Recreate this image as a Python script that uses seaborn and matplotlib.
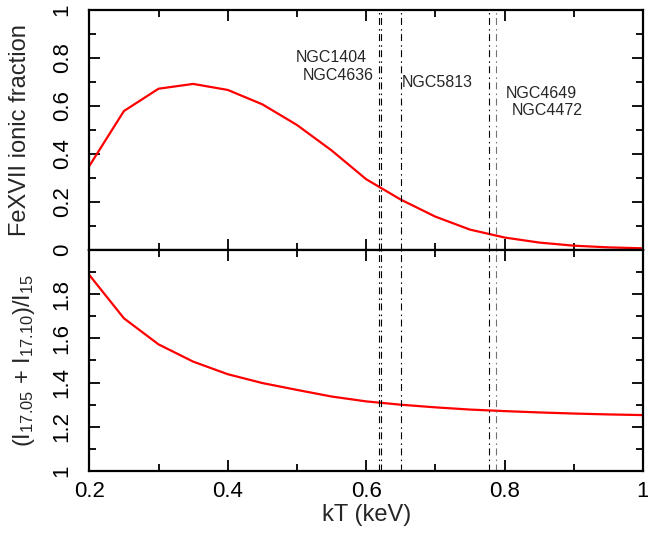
import matplotlib
matplotlib.use("Agg")
import matplotlib.pyplot as plt
import matplotlib.ticker as mticker
import seaborn as sns
import pandas as pd

# ---- data ----
kT = [0.20, 0.25, 0.30, 0.35, 0.40, 0.45, 0.50, 0.55, 0.60, 0.65,
      0.70, 0.75, 0.80, 0.85, 0.90, 0.95, 1.00]
fe17_fraction = [0.350, 0.579, 0.672, 0.692, 0.667, 0.607, 0.521, 0.415, 0.295,
                 0.210, 0.139, 0.085, 0.052, 0.031, 0.018, 0.011, 0.007]
line_ratio = [1.887, 1.691, 1.573, 1.495, 1.438, 1.398, 1.367, 1.337, 1.315,
              1.300, 1.288, 1.278, 1.271, 1.265, 1.260, 1.256, 1.253]

galaxy_names = ["NGC1404", "NGC4636", "NGC5813", "NGC4649", "NGC4472"]
galaxy_kT = [0.618, 0.621, 0.651, 0.778, 0.787]
label_x = [0.601, 0.611, 0.652, 0.801, 0.811]
label_y = [0.804, 0.729, 0.696, 0.654, 0.583]
label_ha = ["right", "right", "left", "left", "left"]
line_colors = ["black", "black", "black", "black", "0.45"]

df = pd.DataFrame({"kT": kT, "frac": fe17_fraction, "ratio": line_ratio})

sns.set_theme(style="ticks")
plt.rcParams["font.family"] = ["Liberation Sans", "DejaVu Sans"]
plt.rcParams["mathtext.fontset"] = "custom"
plt.rcParams["mathtext.rm"] = "Liberation Sans"
plt.rcParams["mathtext.it"] = "Liberation Sans:italic"
plt.rcParams["lines.scale_dashes"] = False

fig = plt.figure(figsize=(6.48, 5.34), dpi=100)
left, right = 89.3 / 648, 643 / 648
top_y, mid_y, bot_y = 1 - 10 / 534, 1 - 250 / 534, 1 - 471 / 534
ax1 = fig.add_axes([left, mid_y, right - left, top_y - mid_y])
ax2 = fig.add_axes([left, bot_y, right - left, mid_y - bot_y])

sns.lineplot(data=df, x="kT", y="frac", ax=ax1, color="red", lw=1.6)
sns.lineplot(data=df, x="kT", y="ratio", ax=ax2, color="red", lw=1.6)

dash = (0, (5, 2.5, 1.1, 3))
for ax in (ax1, ax2):
    for xv, c in zip(galaxy_kT, line_colors):
        ax.axvline(xv, color=c, lw=0.8, linestyle=dash)

for name, x, y, ha in zip(galaxy_names, label_x, label_y, label_ha):
    ax1.text(x, y, name, ha=ha, va="center", fontsize=11.5)

fmt = mticker.FuncFormatter(lambda v, p: "%g" % round(v, 3))
for ax in (ax1, ax2):
    ax.set_xlim(0.2, 1.0)
    ax.xaxis.set_major_locator(mticker.MultipleLocator(0.2))
    ax.xaxis.set_minor_locator(mticker.MultipleLocator(0.1))
    ax.yaxis.set_major_locator(mticker.MultipleLocator(0.2))
    ax.yaxis.set_minor_locator(mticker.MultipleLocator(0.1))
    ax.tick_params(which="both", direction="in", top=True, right=True,
                   width=1.3, colors="black")
    ax.tick_params(which="major", length=8)
    ax.tick_params(which="minor", length=5)
    ax.tick_params(axis="x", labelsize=16, pad=7)
    ax.tick_params(axis="y", labelsize=16, pad=12)
    ax.xaxis.set_major_formatter(fmt)
    ax.yaxis.set_major_formatter(fmt)
    for s in ax.spines.values():
        s.set_linewidth(1.6)
        s.set_color("black")
    ax.grid(False)

ax1.set_ylim(0, 1)
ax2.set_ylim(1, 2)
ax1.tick_params(axis="x", labelbottom=False)
ax2.set_yticks([1.0, 1.2, 1.4, 1.6, 1.8])

for ax in (ax1, ax2):
    for lab in ax.get_yticklabels():
        lab.set_rotation(90)
        lab.set_va("center")
        lab.set_ha("right")

ax1.set_xlabel("")
ax1.set_ylabel("FeXVII ionic fraction", fontsize=17, va="center")
ax1.yaxis.set_label_coords(-0.125, 0.5)
ax2.set_ylabel(r"(I$_{17.05}$ + I$_{17.10}$)/I$_{15}$", fontsize=17, va="center")
ax2.yaxis.set_label_coords(-0.118, 0.5)
ax2.set_xlabel("kT (keV)", fontsize=17, labelpad=2)

fig.savefig("out.png", dpi=100)
